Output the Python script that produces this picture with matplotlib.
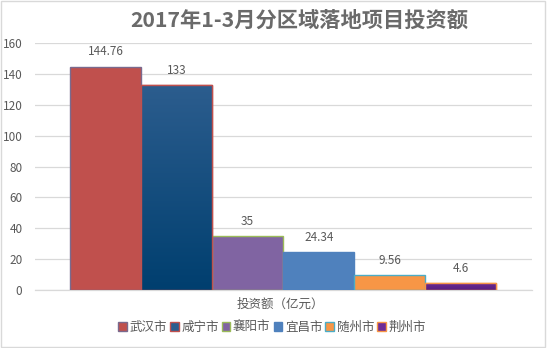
import matplotlib
matplotlib.use("Agg")
import matplotlib.pyplot as plt
import numpy as np
from matplotlib.patches import Rectangle

plt.rcParams['font.family'] = ['Noto Sans CJK SC', 'DejaVu Sans']

# data
cities = ["武汉市", "咸宁市", "襄阳市", "宜昌市", "随州市", "荆州市"]
values = [144.76, 133, 35, 24.34, 9.56, 4.6]
labels = ["144.76", "133", "35", "24.34", "9.56", "4.6"]
face_colors = ["#C0504D", "#2C5D8E", "#8064A2", "#4F81BD", "#F79646", "#6E2C96"]
bottom_colors = ["#C0504D", "#003F6F", "#8064A2", "#4F81BD", "#F79646", "#5A1F7E"]
edge_colors = ["#7A6A8E", "#C0504D", "#9BBB59", "#4F81BD", "#4BACC6", "#F79646"]
yticks = [0, 20, 40, 60, 80, 100, 120, 140, 160]
text_gray = "#595959"

fig = plt.figure(figsize=(5.47, 3.48), dpi=100)
ax = fig.add_axes([35 / 547, 1 - 290 / 348, 497 / 547, 247 / 348])

index = np.arange(len(cities))
bars = ax.bar(index, values, width=1.0, color=face_colors, edgecolor=edge_colors,
              linewidth=1.0, label=cities, zorder=3)

# gradient fill (top colour -> bottom colour) like the Excel bars
for b, top_c, bot_c in zip(bars, face_colors, bottom_colors):
    if top_c == bot_c:
        continue
    c1 = np.array(matplotlib.colors.to_rgb(top_c))
    c2 = np.array(matplotlib.colors.to_rgb(bot_c))
    t = np.linspace(0, 1, 100)[:, None]
    grad = (c1 * (1 - t) + c2 * t)[:, None, :]
    x0, y0 = b.get_x(), b.get_y()
    im = ax.imshow(grad, extent=[x0, x0 + b.get_width(), y0, y0 + b.get_height()],
                   aspect='auto', origin='upper', zorder=3.5)
    im.set_clip_path(b)
    ax.add_patch(Rectangle((x0, y0), b.get_width(), b.get_height(), fill=False,
                           edgecolor=b.get_edgecolor(), linewidth=1.0, zorder=4))

for i, v in enumerate(values):
    ax.text(index[i], v + 9.5, labels[i], ha='center', va='center', fontsize=8.5,
            color=text_gray, zorder=5)

ax.set_xlim(-0.99, 6.0)
ax.set_ylim(0, 160)
ax.set_yticks(yticks)
ax.set_xticks([])
ax.tick_params(axis='y', length=0, labelsize=8.5, labelcolor=text_gray, pad=9)
ax.grid(axis='y', color='#D9D9D9', linewidth=0.9, zorder=0)
for s in ['top', 'right', 'left']:
    ax.spines[s].set_visible(False)
ax.spines['bottom'].set_color('#D9D9D9')
ax.spines['bottom'].set_linewidth(0.9)

fig.text(280 / 547, 1 - 304 / 348, "投资额（亿元）", ha='center', va='center',
         fontsize=9, color=text_gray)
fig.text(299 / 547, 1 - 20 / 348, "2017年1-3月分区域落地项目投资额", ha='center',
         va='center', fontsize=15.3, fontweight='bold', color='#6A6A6A')

leg = fig.legend(handles=list(bars), labels=cities, loc='center',
                 bbox_to_anchor=(272 / 547, 1 - 327 / 348), ncol=6, frameon=False,
                 fontsize=9, handlelength=0.7, handleheight=0.7, handletextpad=0.2,
                 columnspacing=0.25, labelcolor=text_gray)

# chart border
fig.add_artist(Rectangle((0.002, 0.003), 0.995, 0.993, transform=fig.transFigure,
                         fill=False, edgecolor='#D9D9D9', linewidth=1.0))

fig.savefig("out.png", dpi=100)
